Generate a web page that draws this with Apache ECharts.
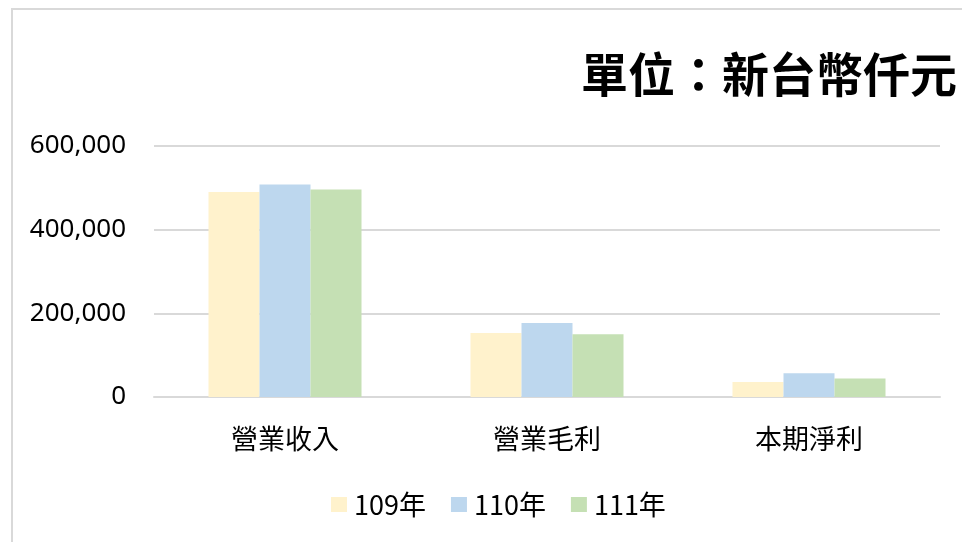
<!DOCTYPE html>
<html>
<head>
<meta charset="utf-8">
<script src="https://cdn.jsdelivr.net/npm/echarts@6/dist/echarts.min.js"></script>
<style>
  html, body { margin: 0; padding: 0; background: #fff; }
  #frame { position: absolute; left: 11px; top: 8px; width: 970px; height: 560px; border: 2px solid #d9d9d9; box-sizing: border-box; }
  #main { position: absolute; left: 0; top: 0; width: 962px; height: 542px; }
</style>
</head>
<body>
<div id="frame"></div>
<div id="main"></div>
<script>
var categories = ['營業收入', '營業毛利', '本期淨利'];
var seriesNames = ['109年', '110年', '111年'];
var y109 = [490000, 153000, 36000];
var y110 = [508000, 177000, 57000];
var y111 = [496000, 150000, 44000];
var yTicks = [0, 200000, 400000, 600000];

(function () {
    var myChart = echarts.init(document.getElementById('main'));
    var colors = ['#fff2cc', '#bdd7ee', '#c5e0b4'];
    var font = '"Noto Sans CJK TC", "Noto Sans", sans-serif';
    var values = [y109, y110, y111];

    var series = seriesNames.map(function (name, i) {
        return {
            name: name,
            type: 'bar',
            data: values[i],
            barGap: '0%',
            barCategoryGap: '41.6%',
            itemStyle: { color: colors[i] }
        };
    });

    var option = {
        animation: false,
        color: colors,
        title: {
            text: '單位：新台幣仟元',
            right: 0,
            top: 46,
            textStyle: { fontFamily: font, fontSize: 47, fontWeight: 'bold', color: '#000' }
        },
        legend: {
            top: 486,
            left: 326,
            itemWidth: 16,
            itemHeight: 15,
            itemGap: 25,
            icon: 'rect',
            textStyle: { fontFamily: font, fontSize: 27, color: '#000', padding: [0, 0, 0, 2] },
            data: seriesNames
        },
        grid: { left: 154, right: 22, top: 146, bottom: 145 },
        xAxis: {
            type: 'category',
            data: categories,
            axisLine: { lineStyle: { color: '#d9d9d9', width: 2 } },
            axisTick: { show: false },
            axisLabel: { fontFamily: font, fontSize: 27, color: '#000', margin: 28 }
        },
        yAxis: {
            type: 'value',
            min: yTicks[0],
            max: yTicks[yTicks.length - 1],
            interval: yTicks[1] - yTicks[0],
            splitLine: { lineStyle: { color: '#d9d9d9', width: 2 } },
            axisLine: { show: false },
            axisTick: { show: false },
            axisLabel: {
                fontFamily: '"Noto Sans", sans-serif',
                fontSize: 26,
                color: '#000',
                margin: 28,
                formatter: function (v) { return v.toLocaleString('en-US'); }
            }
        },
        series: series
    };
    myChart.setOption(option);
})();
</script>
</body>
</html>
